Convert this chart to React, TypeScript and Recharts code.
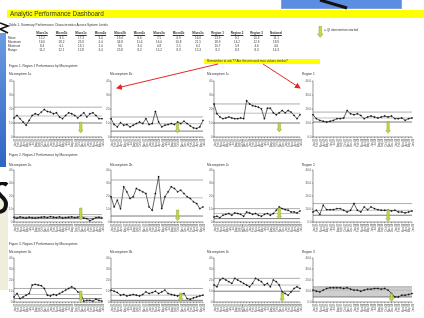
import React from 'react'
import {
  LineChart,
  Line,
  XAxis,
  YAxis,
  ReferenceLine,
  ReferenceDot,
  ReferenceArea,
} from 'recharts'

const MONTHS = [
  'Jan-07', 'Feb-07', 'Mar-07', 'Apr-07', 'May-07', 'Jun-07', 'Jul-07', 'Aug-07', 'Sep-07', 'Oct-07',
  'Nov-07', 'Dec-07', 'Jan-08', 'Feb-08', 'Mar-08', 'Apr-08', 'May-08', 'Jun-08', 'Jul-08', 'Aug-08',
  'Sep-08', 'Oct-08', 'Nov-08', 'Dec-08', 'Jan-09', 'Feb-09', 'Mar-09', 'Apr-09', 'May-09', 'Jun-09',
]

const Y_TICKS = [0, 5, 10, 15, 20, 25, 30, 35, 40]

// Figure 1 - Region 1
const M1A = [13.6, 15.4, 13.1, 10.7, 8.4, 11.9, 15.4, 16.6, 15.9, 17.8, 19.6, 18.2, 17.8, 16.6, 17.3, 14.3, 13.1, 15.4, 17.3, 16.6, 15.4, 13.6, 15.4, 17.3, 14.3, 16.6, 17.3, 15.4, 13.1, 13.1]
const M1B = [13.1, 8.9, 7.2, 10.3, 8.4, 8.9, 7.2, 8.4, 9.6, 10.7, 9.6, 13.1, 8.9, 9.6, 18.2, 10.7, 7.2, 8.4, 8.9, 9.6, 8.9, 10.7, 9.6, 11.2, 9.6, 7.9, 6.5, 6.1, 7.2, 11.9]
const M1C = [23.6, 16.6, 14.3, 13.1, 13.6, 14.3, 13.6, 13.1, 13.1, 13.6, 13.1, 25.9, 23.6, 22.4, 21.9, 21.3, 20.1, 13.1, 20.6, 20.6, 17.3, 15.9, 17.3, 18.9, 17.3, 18.9, 17.8, 15.4, 13.1, 15.9]
const R1 = [15.9, 13.1, 11.9, 11.2, 10.7, 11.2, 11.9, 13.1, 13.1, 13.6, 18.9, 16.6, 15.9, 16.6, 15.4, 13.1, 14.3, 15.0, 14.3, 13.6, 14.3, 15.0, 14.3, 15.0, 13.1, 13.1, 13.6, 11.9, 13.1, 13.6]

// Figure 2 - Region 2
const M2A = [3.6, 3.0, 3.9, 3.4, 3.1, 3.6, 3.3, 3.1, 3.4, 3.6, 3.9, 3.4, 4.1, 3.6, 3.4, 3.9, 3.1, 3.4, 3.6, 3.9, 3.4, 3.6, 4.4, 3.1, 2.6, 1.0, 2.1, 3.4, 3.6, 3.1]
const M2B = [19.4, 11.6, 16.8, 10.1, 27.1, 23.2, 18.1, 19.4, 25.8, 24.5, 23.2, 21.9, 11.6, 9.0, 21.9, 34.8, 10.3, 19.4, 23.2, 27.1, 25.8, 23.2, 24.5, 21.9, 19.4, 18.1, 15.5, 14.2, 10.3, 11.6]
const M2C = [3.9, 4.4, 3.4, 5.2, 5.9, 6.5, 5.2, 7.0, 6.5, 5.9, 4.4, 7.7, 7.0, 5.9, 6.5, 5.2, 4.4, 5.9, 6.5, 5.2, 6.5, 9.0, 11.6, 10.3, 9.5, 9.0, 7.7, 7.7, 7.0, 8.5]
const R2 = [7.7, 9.0, 5.9, 12.9, 9.5, 9.5, 9.5, 10.3, 10.3, 9.0, 7.7, 9.0, 14.2, 9.0, 7.7, 11.6, 9.5, 11.6, 10.3, 9.5, 9.0, 9.0, 9.0, 8.5, 9.0, 7.7, 7.7, 7.0, 7.7, 8.5]

// Figure 3 - Region 3
const M3A = [4.6, 7.7, 3.1, 4.6, 6.2, 7.7, 15.4, 16.0, 15.4, 14.8, 12.3, 6.2, 5.5, 6.8, 6.2, 7.7, 9.2, 10.8, 12.3, 13.8, 12.3, 9.2, 7.7, 0.8, 1.5, 1.5, 0.8, 2.5, 1.5, 0.8]
const M3B = [10.8, 9.8, 8.6, 6.2, 6.8, 5.5, 6.2, 6.8, 6.2, 5.5, 6.8, 9.2, 7.7, 8.6, 9.8, 7.7, 9.2, 10.8, 7.7, 6.8, 6.2, 5.5, 6.8, 7.7, 3.1, 2.5, 3.7, 4.6, 5.5, 6.2]
const M3C = [15.4, 13.8, 20.0, 21.5, 20.0, 18.5, 16.9, 21.5, 20.0, 18.5, 16.9, 15.4, 13.8, 16.9, 21.5, 20.0, 18.5, 15.4, 16.9, 13.8, 20.0, 18.5, 15.4, 9.2, 7.7, 6.2, 9.2, 12.3, 13.8, 12.3]
const R3 = [10.8, 9.8, 9.2, 10.8, 12.3, 12.9, 12.9, 12.9, 12.9, 12.3, 12.9, 11.7, 10.8, 10.8, 9.8, 10.8, 11.7, 11.7, 12.3, 12.3, 11.7, 12.3, 10.8, 7.7, 4.6, 4.6, 6.2, 6.2, 6.8, 7.7]

const SERIES = [M1A, M1B, M1C, R1, M2A, M2B, M2C, R2, M3A, M3B, M3C, R3]
const TITLES = [
  'Microsystem 1a', 'Microsystem 1b', 'Microsystem 1c', 'Region 1',
  'Microsystem 2a', 'Microsystem 2b', 'Microsystem 2c', 'Region 2',
  'Microsystem 3a', 'Microsystem 3b', 'Microsystem 3c', 'Region 3',
]
const UCL = [21.3, 14.3, 23.6, 17.8, 5.7, 32.3, 10.3, 14.2, 12.3, 12.3, 21.5, 13.8]
const CL = [15.0, 9.5, 17.0, 13.6, 4.0, 18.6, 6.5, 9.0, 6.8, 6.2, 15.4, 10.8]
const LCL = [10.0, 4.2, 10.0, 10.7, 2.6, 4.6, 2.6, 5.2, 3.1, 1.5, 9.8, 4.6]
const ARROW_AT = [22, 21, 22, 22, 22, 21, 22, 22, 22, 22, 23, 23]
const ARROW_TOP = [10.7, 10.0, 10.0, 10.9, 10.8, 9.2, 10.8, 9.2, 10.0, 8.2, 8.2, 8.0]
const ARROW_BOTTOM = [2.9, 2.9, 3.6, 2.6, 1.5, 1.0, 2.3, 0.6, 0.5, 0.5, 0.5, 0.5]

const TABLE_COLS = ['Micro1a', 'Micro1b', 'Micro1c', 'Micro2a', 'Micro2b', 'Micro2c', 'Micro3a', 'Micro3b', 'Micro3c', 'Region 1', 'Region 2', 'Region 3', 'National']
const TABLE_ROWS = ['Mean', 'Maximum', 'Minimum', 'Range']

// layout
const COL_X = [[14, 102], [111, 203], [214, 300], [313, 412]]
const ROW_Y = [[81, 137], [170, 222], [258, 302]]
const TITLE_X = [9, 110, 207, 302]
const TITLE_Y = [73, 163.5, 250.5]
const CAPTION_Y = [65, 153.5, 243]
const CAPTIONS = [
  'Figure 1. Region 1 Performance by Microsystem',
  'Figure 2. Region 2 Performance by Microsystem',
  'Figure 3. Region 3 Performance by Microsystem',
]

const FONT = '"Liberation Sans", Arial, sans-serif'

const stats = (a: number[]) => {
  const mean = a.reduce((s, v) => s + v, 0) / a.length
  const max = Math.max(...a)
  const min = Math.min(...a)
  return [mean, max, min, max - min]
}

const TABLE_STATS = [...SERIES.filter((_, i) => i % 4 !== 3), R1, R2, R3, [...R1, ...R2, ...R3]].map(stats)

const arrowShape = (len: number) => (p: any) => {
  const { cx, cy } = p
  const w = 1.2
  const hw = 2.3
  const hh = 2.8
  return (
    <path
      d={`M${cx - w},${cy} L${cx + w},${cy} L${cx + w},${cy + len - hh} L${cx + hw},${cy + len - hh} L${cx},${cy + len} L${cx - hw},${cy + len - hh} L${cx - w},${cy + len - hh} Z`}
      fill="#c8d74a"
      stroke="#7f8f1c"
      strokeWidth={0.4}
    />
  )
}

function Panel({ idx }: { idx: number }) {
  const col = idx % 4
  const row = Math.floor(idx / 4)
  const [x0, x1] = COL_X[col]
  const [y0, y1] = ROW_Y[row]
  const region = col === 3
  const yw = region ? 9 : 5
  const mt = 2
  const mr = 2
  const xh = 13
  const plotH = y1 - y0
  const data = SERIES[idx].map((v, i) => ({ i, v }))
  const arrowLen = ((ARROW_TOP[idx] - ARROW_BOTTOM[idx]) / 40) * plotH

  return (
    <div style={{ position: 'absolute', left: x0 - yw, top: y0 - mt }}>
      <LineChart
        width={x1 - x0 + yw + mr}
        height={plotH + mt + xh}
        data={data}
        margin={{ top: mt, right: mr, left: 0, bottom: 0 }}
      >
        <XAxis
          type="number"
          dataKey="i"
          domain={[0, MONTHS.length - 1]}
          ticks={data.map((d) => d.i)}
          interval={0}
          tickFormatter={(i: number) => MONTHS[i]}
          angle={-90}
          textAnchor="end"
          height={xh}
          tick={{ fontSize: 2.6, fill: '#555' }}
          tickSize={1.2}
          tickMargin={0.5}
          stroke="#333"
          strokeWidth={0.5}
        />
        <YAxis
          domain={[0, 40]}
          ticks={Y_TICKS}
          width={yw}
          tick={{ fontSize: 3, fill: '#555' }}
          tickFormatter={(v: number) => (region ? v.toFixed(1) : String(v))}
          tickSize={1.2}
          tickMargin={0.5}
          stroke="#333"
          strokeWidth={0.5}
        />
        {idx === 11 && (
          <ReferenceArea y1={LCL[idx]} y2={UCL[idx]} fill="#cfcfcf" fillOpacity={1} stroke="none" />
        )}
        <ReferenceLine y={UCL[idx]} stroke="#a5a5a5" strokeWidth={0.9} />
        <ReferenceLine y={CL[idx]} stroke="#b9b9b9" strokeWidth={0.9} />
        <ReferenceLine y={LCL[idx]} stroke="#6d6d6d" strokeWidth={0.9} />
        <Line
          dataKey="v"
          stroke="#222"
          strokeWidth={0.7}
          dot={{ r: 0.7, fill: '#111', stroke: '#111', strokeWidth: 0.3 }}
          isAnimationActive={false}
        />
        <ReferenceDot
          x={ARROW_AT[idx]}
          y={ARROW_TOP[idx]}
          ifOverflow="visible"
          shape={arrowShape(arrowLen)}
        />
      </LineChart>
    </div>
  )
}

const txt = (left: number, top: number, size: number, extra: React.CSSProperties = {}): React.CSSProperties => ({
  position: 'absolute',
  left,
  top,
  fontSize: size,
  lineHeight: 1,
  whiteSpace: 'nowrap',
  color: '#333',
  ...extra,
})

export default function App() {
  return (
    <div
      style={{
        position: 'absolute',
        left: 0,
        top: 0,
        width: 424,
        height: 318,
        overflow: 'hidden',
        background: '#fff',
        fontFamily: FONT,
        filter: 'blur(0.3px)',
      }}
    >
      {/* slide leftovers */}
      <div style={{ position: 'absolute', left: 281, top: -1, width: 119, height: 8, background: '#5b8ee0', border: '1px solid #7ea3e0' }} />
      <svg width={424} height={318} style={{ position: 'absolute', left: 0, top: 0 }}>
        <line x1={320} y1={0} x2={347} y2={8} stroke="#111" strokeWidth={3} />
      </svg>
      <div style={{ position: 'absolute', left: 0, top: 33, width: 6, height: 134, background: 'linear-gradient(#6b9be0, #2f64c4)' }} />
      <div style={{ position: 'absolute', left: 0, top: 200, width: 8, height: 90, background: '#efeedb' }} />
      <svg width={9} height={34} style={{ position: 'absolute', left: 0, top: 182 }}>
        <path d="M7,3 C3,-1 -4,1 -3,8 C-2,14 6,15 6,22 C6,30 -2,32 -6,27" fill="none" stroke="#111" strokeWidth={4} />
      </svg>
      <svg width={12} height={14} style={{ position: 'absolute', left: 0, top: 22 }}>
        <polyline points="0,1 8,4 0,7 8,11" fill="none" stroke="#111" strokeWidth={1.6} />
      </svg>

      {/* title */}
      <div style={{ position: 'absolute', left: 7, top: 10, width: 417, height: 8, background: '#ffff00' }} />
      <div style={txt(10, 11, 6.4)}>Analytic Performance Dashboard</div>

      {/* table */}
      <div style={txt(9, 24, 3.2)}>Table 1. Summary Performance Characteristics Across System Levels</div>
      {TABLE_COLS.map((c, j) => (
        <div key={c} style={txt(34 + j * 19.5, 32, 3, { width: 16, textAlign: 'center', textDecoration: 'underline', fontWeight: 700 })}>
          {c}
        </div>
      ))}
      {TABLE_ROWS.map((r, k) => (
        <React.Fragment key={r}>
          <div style={txt(8, 36.5 + k * 4, 3)}>{r}</div>
          {TABLE_STATS.map((s, j) => (
            <div key={j} style={txt(34 + j * 19.5, 36.5 + k * 4, 3, { width: 16, textAlign: 'center' })}>
              {s[k].toFixed(1)}
            </div>
          ))}
        </React.Fragment>
      ))}

      {/* legend */}
      <svg width={8} height={12} style={{ position: 'absolute', left: 317, top: 26 }}>
        <path d="M2,0 L4.5,0 L4.5,8 L6,8 L3.25,11.5 L0.5,8 L2,8 Z" fill="#c8d74a" stroke="#7f8f1c" strokeWidth={0.4} />
      </svg>
      <div style={txt(324, 28.5, 3.2)}>= QI intervention started</div>

      {/* callout */}
      <div style={{ position: 'absolute', left: 204, top: 58.5, width: 116, height: 5, background: '#ffff00' }} />
      <div style={txt(207, 59.5, 3.2)}>Remember to ask?? Are the min and max values similar?</div>

      {CAPTIONS.map((c, r) => (
        <div key={c} style={txt(9, CAPTION_Y[r], 3.2)}>{c}</div>
      ))}
      {TITLES.map((t, i) => (
        <div key={t} style={txt(TITLE_X[i % 4], TITLE_Y[Math.floor(i / 4)], 3.2)}>{t}</div>
      ))}

      {SERIES.map((_, i) => (
        <Panel key={i} idx={i} />
      ))}

      {/* red arrows from the callout */}
      <svg width={424} height={318} style={{ position: 'absolute', left: 0, top: 0 }}>
        <defs>
          <marker id="rh" markerWidth={6} markerHeight={6} refX={5} refY={3} orient="auto" markerUnits="userSpaceOnUse">
            <path d="M0,0 L6,3 L0,6 Z" fill="#e3262a" />
          </marker>
        </defs>
        <line x1={218} y1={64} x2={117} y2={88} stroke="#e3262a" strokeWidth={1} markerEnd="url(#rh)" />
        <line x1={263} y1={64} x2={300} y2={88} stroke="#e3262a" strokeWidth={1} markerEnd="url(#rh)" />
      </svg>
    </div>
  )
}
